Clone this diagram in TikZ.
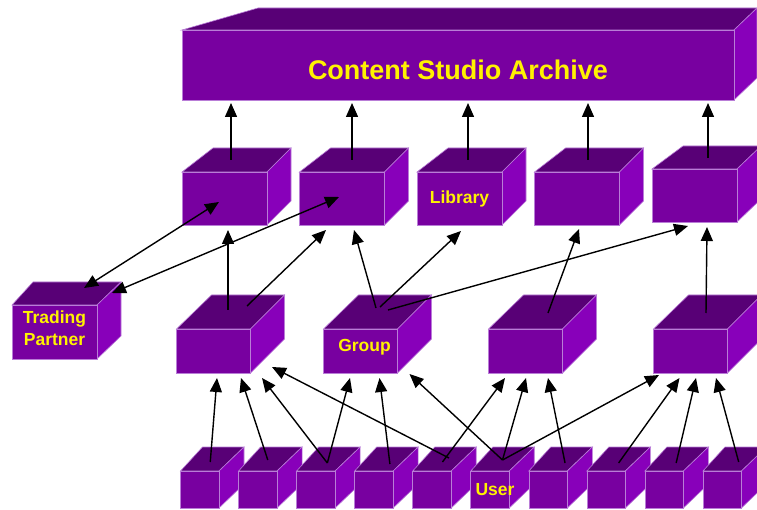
\documentclass[tikz,border=0pt]{standalone}
\usepackage{fontspec}
\setmainfont{Liberation Sans}
\usetikzlibrary{positioning,arrows.meta}

\definecolor{cubeFront}{RGB}{120,0,160}
\definecolor{cubeTop}{RGB}{88,0,118}
\definecolor{cubeRight}{RGB}{136,0,186}
\definecolor{cubeEdge}{RGB}{185,125,215}

\pgfdeclarelayer{background}
\pgfsetlayers{background,main}

\tikzset{
	box/.style={draw=cubeEdge, line width=0.6pt, fill=cubeFront,
		inner sep=0pt, outer sep=0pt, text=yellow, align=center,
		font=\bfseries\fontsize{17.5}{22}\selectfont},
	store/.style={box, minimum width=85pt, minimum height=53pt},
	team/.style={box, minimum width=74pt, minimum height=44pt},
	user/.style={box, minimum width=38.5pt, minimum height=37pt},
	boxtop/.style={draw=cubeEdge, line width=0.6pt, fill=cubeTop},
	boxright/.style={draw=cubeEdge, line width=0.6pt, fill=cubeRight},
	link/.style={line width=1.4pt, -{Triangle[length=14pt,width=12pt]}},
	twoway/.style={line width=1.4pt, {Triangle[length=14pt,width=12pt]}-{Triangle[length=14pt,width=12pt]}},
}

% top and right faces of a box: node, left depth, right depth, height
\newcommand{\boxsides}[4]{
	\fill[boxtop] (#1.north west) -- ++(#2pt,#4pt) -- ([shift={(#3pt,#4pt)}]#1.north east) -- (#1.north east) -- cycle;
	\fill[boxright] (#1.north east) -- ++(#3pt,#4pt) -- ([shift={(#3pt,#4pt)}]#1.south east) -- (#1.south east) -- cycle;
}

\begin{document}
\begin{tikzpicture}[x=1pt,y=-1pt]
\useasboundingbox (0,0) rectangle (757,510);

% Archive
\node [box,
	minimum width=552pt,
	minimum height=70pt,
	text height=29.7pt,
	font=\bfseries\fontsize{27}{30}\selectfont
] (archive) at (458,65) {Content Studio Archive};

% Stores
\node [store] (lib1) at (224.5,198.5) {};
\node [store, right=32.5pt of lib1] (lib2) {};
\node [store, right=32.5pt of lib2] (library) {Library};
\node [store, right=32.5pt of library] (lib4) {};
\node [store, right=32.5pt of lib4, yshift=3pt] (lib5) {};

% Trading partner
\node [box,
	minimum width=85pt,
	minimum height=54pt,
	text depth=8pt
] (partner) at (54.5,332) {Trading\\Partner};

% Groups
\node [team] (team1) at (213.5,351) {};
\node [team, right=73pt of team1, text depth=11.7pt] (group) {\kern8pt Group};
\node [team, right=91pt of group] (team3) {};
\node [team, right=91pt of team3] (team4) {};

% Users
\node [user] (user1) at (199.75,489.5) {};
\node [user, right=19.55pt of user1] (user2) {};
\node [user, right=19.55pt of user2] (user3) {};
\node [user, right=19.55pt of user3] (user4) {};
\node [user, right=19.55pt of user4] (user5) {};
\node [user, right=19.55pt of user5] (user6) {\makebox[0pt]{\kern10pt User}};
\node [user, right=19.55pt of user6] (user7) {};
\node [user, right=19.55pt of user7] (user8) {};
\node [user, right=19.55pt of user8] (user9) {};
\node [user, right=19.55pt of user9] (user10) {};

\begin{pgfonlayer}{background}
\boxsides{archive}{76}{23}{22}
\boxsides{lib1}{31}{24}{24}
\boxsides{lib2}{31}{24}{24}
\boxsides{library}{31}{24}{24}
\boxsides{lib4}{31}{24}{24}
\boxsides{lib5}{31}{24}{23}
\boxsides{partner}{21}{24}{23}
\boxsides{team1}{35}{34}{34}
\boxsides{group}{35}{34}{34}
\boxsides{team3}{35}{34}{34}
\boxsides{team4}{35}{34}{34}
\boxsides{user1}{22}{25}{24}
\boxsides{user2}{22}{25}{24}
\boxsides{user3}{22}{25}{24}
\boxsides{user4}{22}{25}{24}
\boxsides{user5}{22}{25}{24}
\boxsides{user6}{22}{25}{24}
\boxsides{user7}{22}{25}{24}
\boxsides{user8}{22}{25}{24}
\boxsides{user9}{22}{25}{24}
\boxsides{user10}{22}{25}{24}
\end{pgfonlayer}

% Stores to archive
\draw[link] ([shift={(6.5pt,12pt)}]lib1.north) -- ([shift={(49pt,-3pt)}]archive.south west);
\draw[link] ([shift={(10pt,12pt)}]lib2.north) -- ([shift={(170pt,-3pt)}]archive.south west);
\draw[link] ([shift={(8.5pt,12pt)}]library.north) -- ([shift={(286pt,-3pt)}]archive.south west);
\draw[link] ([shift={(11pt,12pt)}]lib4.north) -- ([shift={(406pt,-3pt)}]archive.south west);
\draw[link] ([shift={(13.5pt,11pt)}]lib5.north) -- ([shift={(526pt,-3pt)}]archive.south west);

% Trading partner to stores
\draw[twoway] ([shift={(29.5pt,17pt)}]partner.north) -- ([shift={(-5.5pt,-3.5pt)}]lib1.center);
\draw[twoway] ([shift={(57.5pt,12pt)}]partner.north) -- ([shift={(-3pt,1.5pt)}]lib2.center);

% Groups to stores
\draw[link] ([shift={(14.5pt,19pt)}]team1.north) -- ([shift={(3.5pt,-5pt)}]lib1.south);
\draw[link] ([shift={(33.5pt,23pt)}]team1.north) -- ([shift={(-16pt,-5pt)}]lib2.south);
\draw[link] ([shift={(15.5pt,21pt)}]group.north) -- ([shift={(12pt,-5pt)}]lib2.south);
\draw[link] ([shift={(19.5pt,22pt)}]group.north) -- ([shift={(1.5pt,-6pt)}]library.south);
\draw[link] ([shift={(27.5pt,19pt)}]group.north) -- ([shift={(-6.5pt,-4pt)}]lib5.south);
\draw[link] ([shift={(22.5pt,16pt)}]team3.north) -- ([shift={(2pt,-4pt)}]lib4.south);
\draw[link] ([shift={(15.5pt,16pt)}]team4.north) -- ([shift={(12.5pt,-5pt)}]lib5.south);

% Users to groups
\draw[link] ([shift={(10.5pt,9pt)}]user1.north) -- ([shift={(3.5pt,-5pt)}]team1.south);
\draw[link] ([shift={(10pt,11pt)}]user2.north) -- ([shift={(27.5pt,-5pt)}]team1.south);
\draw[link] ([shift={(11.5pt,8pt)}]user3.north) -- ([shift={(48.5pt,-5pt)}]team1.south);
\draw[link] ([shift={(11.5pt,8pt)}]user3.north) -- ([shift={(-10.5pt,-5pt)}]group.south);
\draw[link] ([shift={(16pt,7pt)}]user4.north) -- ([shift={(19pt,-5pt)}]group.south);
\draw[link] ([shift={(17pt,13pt)}]user5.north) -- ([shift={(58.5pt,6pt)}]team1.south);
\draw[link] ([shift={(10.5pt,9pt)}]user5.north) -- ([shift={(-20.5pt,-5pt)}]team3.south);
\draw[link] ([shift={(12.5pt,11pt)}]user6.north) -- ([shift={(49pt,-1pt)}]group.south);
\draw[link] ([shift={(12.5pt,11pt)}]user6.north) -- ([shift={(0.5pt,-5pt)}]team3.south);
\draw[link] ([shift={(12.5pt,11pt)}]user6.north) -- ([shift={(-31.5pt,-2pt)}]team4.south);
\draw[link] ([shift={(17pt,8pt)}]user7.north) -- ([shift={(22.5pt,-5pt)}]team3.south);
\draw[link] ([shift={(12.5pt,8pt)}]user8.north) -- ([shift={(-11pt,-5pt)}]team4.south);
\draw[link] ([shift={(12pt,8pt)}]user9.north) -- ([shift={(5.5pt,-5pt)}]team4.south);
\draw[link] ([shift={(16.5pt,9pt)}]user10.north) -- ([shift={(25.5pt,-5pt)}]team4.south);

\end{tikzpicture}
\end{document}
